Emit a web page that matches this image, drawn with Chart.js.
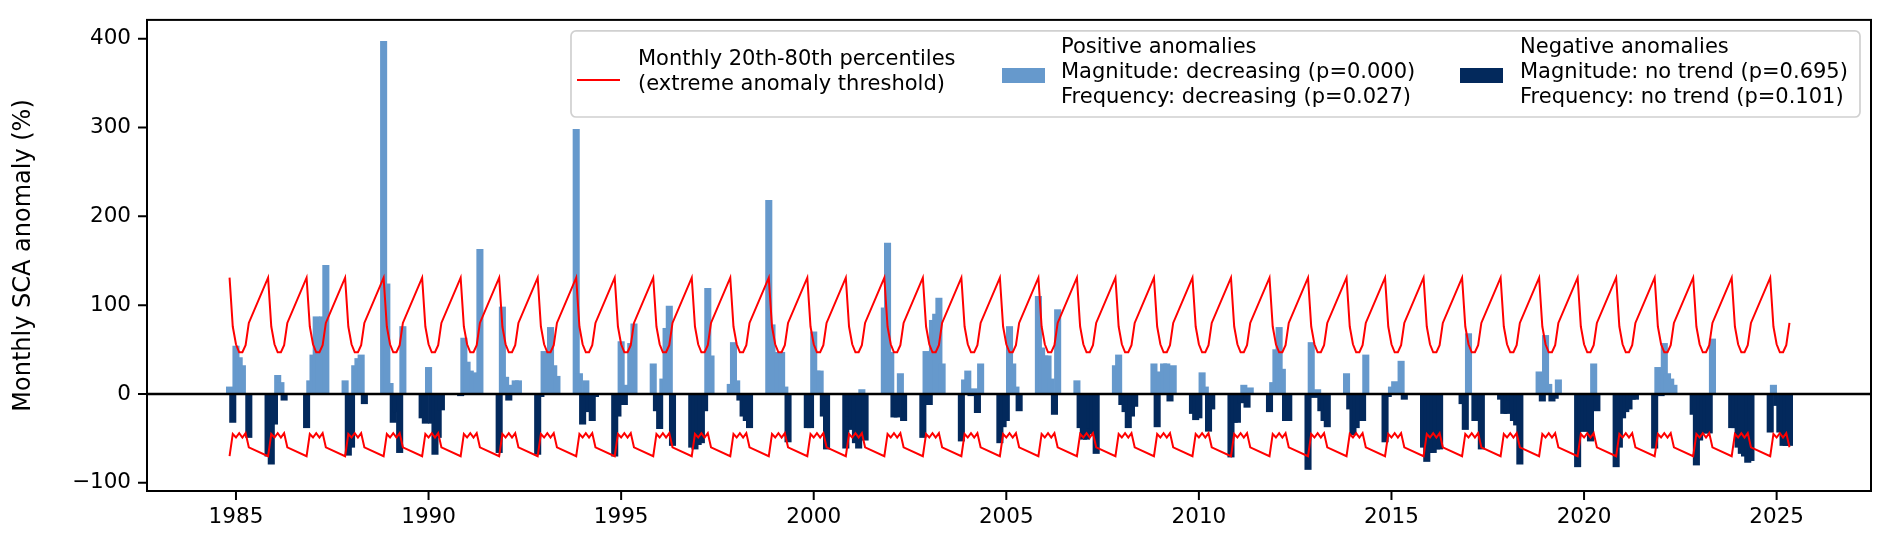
<!DOCTYPE html>
<html lang="en">
  <head>
    <meta charset="UTF-8" />
    <title>Monthly SCA anomaly</title>
    <style>
      html,
      body {
        margin: 0;
        padding: 0;
        background-color: #fff;
      }
      #wrap {
        width: 1892px;
        height: 548px;
      }
    </style>
  </head>
  <body>
    <div id="wrap"><canvas id="scaChart" width="1892" height="548"></canvas></div>

    <script src="https://cdn.jsdelivr.net/npm/chart.js"></script>
    <script>
      // one row per snow season (Nov..May), keyed by the year the season starts
      const seasonStartYears = [
        1984, 1985, 1986, 1987, 1988, 1989, 1990, 1991, 1992, 1993, 1994,
        1995, 1996, 1997, 1998, 1999, 2000, 2001, 2002, 2003, 2004, 2005,
        2006, 2007, 2008, 2009, 2010, 2011, 2012, 2013, 2014, 2015, 2016,
        2017, 2018, 2019, 2020, 2021, 2022, 2023, 2024,
      ];
      const seasonMonths = ["Nov", "Dec", "Jan", "Feb", "Mar", "Apr", "May"];

      // monthly 80th / 20th percentile (same for every season)
      const upperThreshold = [131, 76, 56, 47, 47, 55, 80];
      const lowerThreshold = [-70, -45, -49, -44, -49, -44, -60];

      // SCA anomaly (%), Nov..May
      const anomalies = [
        [8, -32, 54, 41, 32, 0, -49], // 1984/85
        [-70, -79, -34, 21, 13, -7, 0],
        [-38, 15, 44, 87, 80, 87, 145],
        [15, -69, -60, 32, 40, 44, -11],
        [397, 124, 12, -32, -20, -66, 76],
        [-27, -33, 30, -33, -68, -49, -18], // 1989/90
        [-2, 63, 36, 26, 22, 24, 163],
        [-66, 98, 19, -7, 10, 15, 15],
        [-68, -3, 48, 45, 75, 32, 20],
        [298, 23, -34, 15, -20, -30, -3],
        [-70, -25, 59, -12, 10, 57, 79], // 1994/95
        [34, -19, -39, 17, 74, 99, -58],
        [-60, -62, -57, -55, -19, 119, 43],
        [11, 58, 15, -7, -25, -30, -38],
        [218, 78, 47, 45, 47, 8, -54],
        [-38, -38, 70, 26, 26, -25, -62], // 1999/00
        [-61, -25, -40, -55, -61, 5, -52],
        [97, 170, 47, -26, -26, 23, -30],
        [-49, 48, -12, 83, 90, 108, 34],
        [-53, 16, 26, -2, 6, -21, 34],
        [-55, -37, -30, 76, 34, 8, -19], // 2004/05
        [110, 52, 43, 43, 17, -23, 95],
        [15, -38, -51, -51, -38, -45, -67],
        [32, 44, -12, -20, -38, -25, -14],
        [34, -37, 25, 34, 34, -8, 32],
        [-22, -29, -27, 24, 8, -42, -17], // 2009/10
        [-71, -32, -32, -10, 10, -15, 7],
        [-20, 13, 50, 75, 28, -30, -30],
        [-85, 58, -4, 5, -19, -30, -37],
        [23, -17, -46, -38, -30, -30, 44],
        [-54, -3, 8, 14, 12, 37, -6], // 2014/15
        [-60, -76, -66, -66, -62, -62, 0],
        [-11, -40, 68, 0, -30, -30, -62],
        [-6, -22, -22, -7, -30, -35, -79],
        [25, -8, 66, 11, -8, -5, 16],
        [-82, -42, -42, -42, -53, 34, -19], // 2019/20
        [-82, -60, -27, -20, -17, -6, -6],
        [-61, 30, -2, 57, 23, 17, 10],
        [-23, -80, -52, -44, -44, -44, 62],
        [-38, -38, -60, -67, -70, -77, -75],
        [-43, 10, -13, -43, -58, -58, -58], // 2024/25
      ];

      const xTicks = [1985, 1990, 1995, 2000, 2005, 2010, 2015, 2020, 2025];
      const yTicks = [-100, 0, 100, 200, 300, 400];

      const legendThreshold = [
        "Monthly 20th-80th percentiles",
        "(extreme anomaly threshold)",
      ];
      const legendPositive = [
        "Positive anomalies",
        "Magnitude: decreasing (p=0.000)",
        "Frequency: decreasing (p=0.027)",
      ];
      const legendNegative = [
        "Negative anomalies",
        "Magnitude: no trend (p=0.695)",
        "Frequency: no trend (p=0.101)",
      ];

      const POS_COLOR = "#6699cc";
      const NEG_COLOR = "#03295c";
      const RED = "#ff0000";
      const FAMILY = "'DejaVu Sans', sans-serif";
      const TICK_LEN = 9;

      // build the points (Nov = month index 10)
      const posPoints = [];
      const negPoints = [];
      const upperPoints = [];
      const lowerPoints = [];
      seasonStartYears.forEach((yr, i) => {
        seasonMonths.forEach((m, k) => {
          const x = yr + (10 + k) / 12;
          const v = anomalies[i][k];
          if (v > 0) posPoints.push({ x: x, y: v });
          else if (v < 0) negPoints.push({ x: x, y: v });
          upperPoints.push({ x: x, y: upperThreshold[k] });
          lowerPoints.push({ x: x, y: lowerThreshold[k] });
        });
      });

      // zero line, box around the axes and outward tick marks
      const framePlugin = {
        id: "frame",
        afterDatasetsDraw(chart) {
          const { ctx, chartArea: a, scales } = chart;
          const y0 = scales.y.getPixelForValue(0);
          ctx.save();
          ctx.strokeStyle = "#000";
          ctx.lineWidth = 2.4;
          ctx.beginPath();
          ctx.moveTo(a.left, y0);
          ctx.lineTo(a.right, y0);
          ctx.stroke();

          ctx.lineWidth = 2;
          ctx.strokeRect(a.left, a.top, a.right - a.left, a.bottom - a.top);

          ctx.beginPath();
          xTicks.forEach((v) => {
            const px = scales.x.getPixelForValue(v);
            ctx.moveTo(px, a.bottom);
            ctx.lineTo(px, a.bottom + TICK_LEN);
          });
          yTicks.forEach((v) => {
            const py = scales.y.getPixelForValue(v);
            ctx.moveTo(a.left, py);
            ctx.lineTo(a.left - TICK_LEN, py);
          });
          ctx.stroke();
          ctx.restore();
        },
      };

      // legend with multi-line labels, upper right
      const legendPlugin = {
        id: "boxLegend",
        afterDraw(chart) {
          const { ctx, chartArea: a } = chart;
          const right = a.right - 11;
          const top = a.top + 11;
          const left = 571;
          const bottom = 117;
          ctx.save();
          ctx.beginPath();
          if (ctx.roundRect) ctx.roundRect(left, top, right - left, bottom - top, 5);
          else ctx.rect(left, top, right - left, bottom - top);
          ctx.fillStyle = "rgba(255,255,255,0.8)";
          ctx.fill();
          ctx.strokeStyle = "#d0d0d0";
          ctx.lineWidth = 1.7;
          ctx.stroke();

          ctx.strokeStyle = RED;
          ctx.lineWidth = 2;
          ctx.beginPath();
          ctx.moveTo(577, 80);
          ctx.lineTo(620, 80);
          ctx.stroke();
          ctx.fillStyle = POS_COLOR;
          ctx.fillRect(1002, 68, 43, 15);
          ctx.fillStyle = NEG_COLOR;
          ctx.fillRect(1460, 68, 43, 15);

          ctx.fillStyle = "#000";
          ctx.font = "21px " + FAMILY;
          ctx.textBaseline = "middle";
          legendThreshold.forEach((t, i) => ctx.fillText(t, 638, 60 + i * 25));
          legendPositive.forEach((t, i) => ctx.fillText(t, 1061, 48 + i * 25));
          legendNegative.forEach((t, i) => ctx.fillText(t, 1520, 48 + i * 25));
          ctx.restore();
        },
      };

      const tickFont = { family: FAMILY, size: 21.5 };
      const barWidth = 6.42; // bars are two months wide
      // tick marks are drawn by framePlugin; the grid only reserves their room
      const hiddenTicks = {
        offset: false,
        drawOnChartArea: false,
        drawTicks: true,
        tickLength: TICK_LEN,
        tickColor: "rgba(0,0,0,0)",
      };

      new Chart(document.getElementById("scaChart"), {
        type: "bar",
        data: {
          datasets: [
            {
              type: "line",
              data: upperPoints,
              borderColor: RED,
              borderWidth: 2,
              pointRadius: 0,
              tension: 0,
              order: 0,
            },
            {
              type: "line",
              data: lowerPoints,
              borderColor: RED,
              borderWidth: 2,
              pointRadius: 0,
              tension: 0,
              order: 0,
            },
            {
              label: "Positive anomalies",
              data: posPoints,
              backgroundColor: POS_COLOR,
              barThickness: barWidth,
              grouped: false,
              borderWidth: 0,
              order: 1,
            },
            {
              label: "Negative anomalies",
              data: negPoints,
              backgroundColor: NEG_COLOR,
              barThickness: barWidth,
              grouped: false,
              borderWidth: 0,
              order: 1,
            },
          ],
        },
        options: {
          responsive: false,
          devicePixelRatio: 1,
          animation: false,
          layout: { padding: { top: 19, right: 21, left: 0, bottom: 0 } },
          plugins: {
            legend: { display: false },
            tooltip: { enabled: false },
          },
          scales: {
            x: {
              type: "linear",
              min: 1982.69,
              max: 2027.45,
              offset: false,
              afterBuildTicks: (s) => {
                s.ticks = xTicks.map((v) => ({ value: v }));
              },
              afterFit: (s) => {
                s.height = 57;
              },
              border: { display: false },
              grid: hiddenTicks,
              ticks: {
                color: "#000",
                font: tickFont,
                padding: 5,
                maxRotation: 0,
                autoSkip: false,
                callback: (v) => String(v),
              },
            },
            y: {
              type: "linear",
              min: -109.2,
              max: 421.2,
              afterBuildTicks: (s) => {
                s.ticks = yTicks.map((v) => ({ value: v }));
              },
              afterFit: (s) => {
                s.width = 147;
              },
              border: { display: false },
              grid: hiddenTicks,
              ticks: {
                color: "#000",
                font: tickFont,
                padding: 7,
                callback: (v) => (v < 0 ? "\u2212" + Math.abs(v) : String(v)),
              },
              title: {
                display: true,
                text: "Monthly SCA anomaly (%)",
                color: "#000",
                font: { family: FAMILY, size: 24 },
                padding: { top: 9, bottom: 0 },
              },
            },
          },
        },
        plugins: [framePlugin, legendPlugin],
      });
    </script>
  </body>
</html>
